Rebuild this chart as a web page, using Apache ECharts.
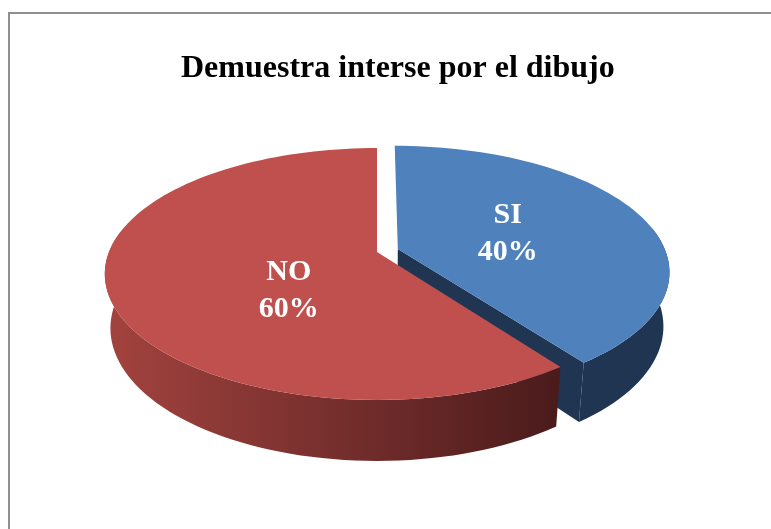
<!DOCTYPE html>
<html>
<head>
<meta charset="utf-8">
<script src="https://cdn.jsdelivr.net/npm/echarts@6/dist/echarts.min.js"></script>
<style>
  html, body { margin: 0; padding: 0; background: #fff; }
  #chart { width: 771px; height: 529px; }
</style>
</head>
<body>
<div id="chart"></div>
<script>
const categories = ["SI", "NO"];
const values = [40, 60];
const explode = [0.082, 0];
const titleText = "Demuestra interse por el dibujo";

const topColors = ["#4f81bd", "#c0504d"];
const sideColors = [["#1f3552", "#1f3552"], ["#a3433f", "#4a1b1b"]];

// simple perspective camera for the "3D" pie
const view = {
  cx: 377,
  cy: 252,
  focal: 1367,
  dist: 5.1,
  elev: 27.1 * Math.PI / 180,
  height: 0.229,
  labelRadius: 0.4,
  // Excel nudges the labels a bit off the mid-angle point
  labelNudge: [[11, -1], [16, 23]],
};
const sinE = Math.sin(view.elev);
const cosE = Math.cos(view.elev);
const camera = [0, -view.dist * cosE, view.dist * sinE];
const total = values.reduce((a, b) => a + b, 0);
const rad = (deg) => deg * Math.PI / 180;

function project(x, y, z) {
  const yc = y * sinE + z * cosE;
  const d = view.dist + y * cosE - z * sinE;
  return [view.cx + view.focal * x / d, view.cy - view.focal * yc / d];
}

function sliceAngles(i) {
  // start at 12 o'clock, clockwise like Excel
  const before = values.slice(0, i).reduce((a, b) => a + b, 0);
  const start = 90 - before / total * 360;
  const end = start - values[i] / total * 360;
  return [start, end];
}

function arc(a0, a1, ox, oy, z) {
  const pts = [];
  const steps = Math.max(2, Math.ceil(Math.abs(a0 - a1) / 2));
  for (let k = 0; k <= steps; k++) {
    const a = rad(a0 + (a1 - a0) * k / steps);
    pts.push(project(ox + Math.cos(a), oy + Math.sin(a), z));
  }
  return pts;
}

function renderSlice(params, api) {
  const i = params.dataIndex;
  const [start, end] = sliceAngles(i);
  const mid = rad((start + end) / 2);
  const ox = explode[i] * Math.cos(mid);
  const oy = explode[i] * Math.sin(mid);
  const h = -view.height;
  const dark = sideColors[i];
  const children = [];

  // cut faces, only the ones turned to the camera
  [[start, 90], [end, -90]].forEach(([a, turn]) => {
    const n = [Math.cos(rad(a + turn)), Math.sin(rad(a + turn))];
    const dot = n[0] * (camera[0] - ox) + n[1] * (camera[1] - oy);
    if (dot < 0.2) return;
    const ex = ox + Math.cos(rad(a));
    const ey = oy + Math.sin(rad(a));
    children.push({
      type: "polygon",
      z2: 1,
      shape: { points: [project(ox, oy, 0), project(ex, ey, 0), project(ex, ey, h), project(ox, oy, h)] },
      style: { fill: dark[1] },
    });
  });

  // outer wall, front half only
  [0, -360].forEach((shift) => {
    const hi = Math.min(start, 10 + shift);
    const lo = Math.max(end, -190 + shift);
    if (lo >= hi) return;
    const pts = arc(hi, lo, ox, oy, 0).concat(arc(lo, hi, ox, oy, h));
    children.push({
      type: "polygon",
      z2: 2,
      shape: { points: pts },
      style: {
        fill: new echarts.graphic.LinearGradient(0, 0, 1, 0, [
          { offset: 0, color: dark[0] },
          { offset: 1, color: dark[1] },
        ]),
      },
    });
  });

  // top face
  children.push({
    type: "polygon",
    z2: 3,
    shape: { points: [project(ox, oy, 0)].concat(arc(start, end, ox, oy, 0)) },
    style: { fill: topColors[i] },
  });

  const lp = project(ox + view.labelRadius * Math.cos(mid), oy + view.labelRadius * Math.sin(mid), 0);
  const nudge = view.labelNudge[i];
  const pct = Math.round(api.value(0) / total * 100) + "%";
  children.push({
    type: "text",
    z2: 4,
    x: lp[0] + nudge[0],
    y: lp[1] + nudge[1],
    style: {
      text: categories[i] + "\n" + pct,
      fill: "#fff",
      fontFamily: "Liberation Serif",
      fontWeight: "bold",
      fontSize: 30,
      lineHeight: 37,
      align: "center",
      verticalAlign: "middle",
    },
  });

  return { type: "group", children };
}

const chart = echarts.init(document.getElementById("chart"));
chart.setOption({
  animation: false,
  title: {
    text: titleText,
    left: 176,
    top: 48,
    textStyle: { fontFamily: "Liberation Serif", fontWeight: "bold", fontSize: 32, color: "#000" },
  },
  graphic: [{
    type: "rect",
    shape: { x: 9, y: 13, width: 800, height: 600 },
    style: { fill: "none", stroke: "#8f8f8f", lineWidth: 2 },
    silent: true,
  }],
  series: [{
    type: "custom",
    coordinateSystem: "none",
    silent: true,
    renderItem: renderSlice,
    data: values.map((v, i) => ({ name: categories[i], value: v })),
  }],
});
</script>
</body>
</html>
